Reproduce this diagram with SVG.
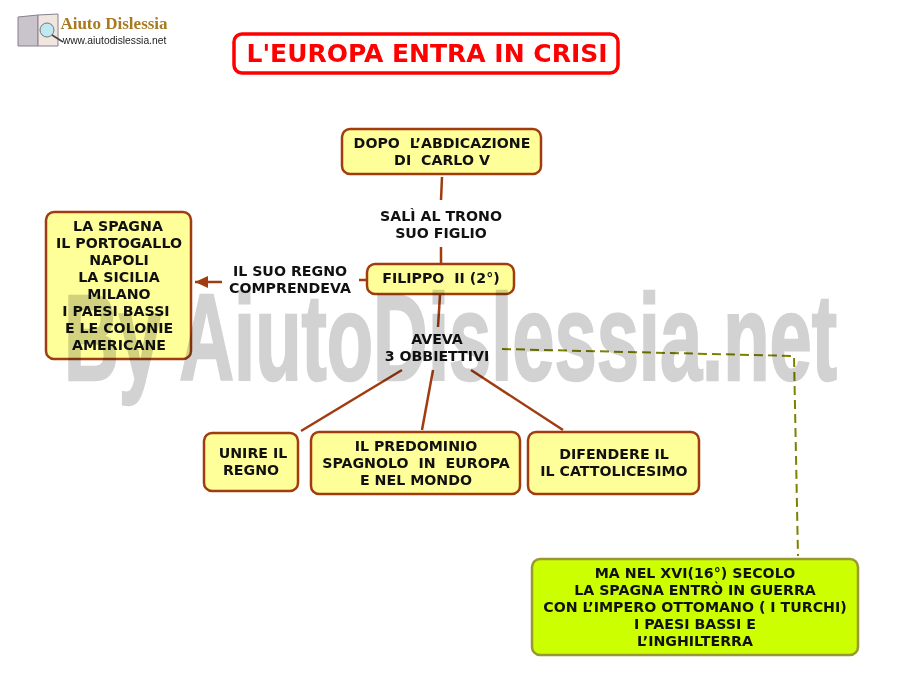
<svg xmlns="http://www.w3.org/2000/svg" width="900" height="700" viewBox="0 0 900 700">
<style>
text{font-family:"DejaVu Sans",Verdana,sans-serif;font-weight:bold;font-size:14.2px;fill:#111;text-anchor:middle;white-space:pre}
.box{fill:#ffff99;stroke:#a03c10;stroke-width:2.5}
.grn{fill:#ccff00;stroke:#999933;stroke-width:2.5}
.ln{fill:none;stroke:#a03c10;stroke-width:2.5}
.dash{fill:none;stroke:#808000;stroke-width:2;stroke-dasharray:9 5}
</style>
<defs><marker id="arr" markerWidth="14" markerHeight="12" refX="13" refY="6" orient="auto" markerUnits="userSpaceOnUse"><path d="M0 0L13 6L0 12Z" fill="#a03c10"/></marker></defs>
<rect width="900" height="700" fill="#fff"/>
<g id="logo">
<path d="M18 17L38 15L38 46L18 46Z" fill="#c9c3cc" stroke="#8a7f90"/>
<path d="M38 15L58 14L58 46L38 46Z" fill="#efe6e0" stroke="#8a7f90"/>
<circle cx="47" cy="30" r="7" fill="#bfe8f0" stroke="#777"/>
<path d="M52 35L63 42" stroke="#444" stroke-width="1.5"/>
<text x="114" y="29" style="font-family:'Liberation Serif',serif;font-size:17px;fill:#a87a20">Aiuto Dislessia</text>
<text x="114.500" y="44" style="font-family:'Liberation Sans',sans-serif;font-size:10.300px;font-weight:normal;fill:#222">www.aiutodislessia.net</text>
</g>
<g id="title">
<rect x="234" y="34" width="384" height="39" rx="8" fill="#fff" stroke="#ff0000" stroke-width="3.500"/>
<text x="427" y="62" style="font-size:25px;fill:#ff0000">L'EUROPA ENTRA IN CRISI</text>
</g>
<g id="connectors">
<path class="ln" d="M442 177L441 200"/>
<path class="ln" d="M441 247L441 263"/>
<path class="ln" d="M440 295L438 327"/>
<path class="ln" d="M367 280L359 280"/>
<path class="ln" d="M222 282L195 282" marker-end="url(#arr)"/>
<path class="ln" d="M402 370L301 431"/>
<path class="ln" d="M433 370L422 430"/>
<path class="ln" d="M471 370L563 430"/>
<path class="dash" d="M502 349L794 356L798 556"/>
</g>
<g id="n1"><rect class="box" x="342" y="129" width="199" height="45" rx="8"/><text x="442" y="148">DOPO  L’ABDICAZIONE</text><text x="442" y="165">DI  CARLO V</text></g>
<g id="l1"><text x="441" y="221">SALÌ AL TRONO</text><text x="441" y="238">SUO FIGLIO</text></g>
<g id="n2"><rect class="box" x="367" y="264" width="147" height="30" rx="8"/><text x="441" y="283">FILIPPO  II (2°)</text></g>
<g id="l2"><text x="290" y="276">IL SUO REGNO</text><text x="290" y="293">COMPRENDEVA</text></g>
<g id="n3"><rect class="box" x="46" y="212" width="145" height="147" rx="8"/>
<text x="118" y="231">LA SPAGNA</text><text x="119" y="248">IL PORTOGALLO</text><text x="119" y="265">NAPOLI</text><text x="119" y="282">LA SICILIA</text><text x="119" y="299">MILANO</text><text x="116" y="316">I PAESI BASSI</text><text x="119" y="333">E LE COLONIE</text><text x="119" y="350">AMERICANE</text></g>
<g id="l3"><text x="437" y="344">AVEVA</text><text x="437" y="361">3 OBBIETTIVI</text></g>
<g id="n4"><rect class="box" x="204" y="433" width="94" height="58" rx="8"/><text x="253" y="458">UNIRE IL</text><text x="251" y="475">REGNO</text></g>
<g id="n5"><rect class="box" x="311" y="432" width="209" height="62" rx="8"/><text x="416" y="451">IL PREDOMINIO</text><text x="416" y="468">SPAGNOLO  IN  EUROPA</text><text x="416" y="485">E NEL MONDO</text></g>
<g id="n6"><rect class="box" x="528" y="432" width="171" height="62" rx="8"/><text x="614" y="459">DIFENDERE IL</text><text x="614" y="476">IL CATTOLICESIMO</text></g>
<g id="n7"><rect class="grn" x="532" y="559" width="326" height="96" rx="8"/>
<text x="695" y="578">MA NEL XVI(16°) SECOLO</text><text x="695" y="595">LA SPAGNA ENTRÒ IN GUERRA</text><text x="695" y="612">CON L’IMPERO OTTOMANO ( I TURCHI)</text><text x="695" y="629">I PAESI BASSI E</text><text x="695" y="646">L’INGHILTERRA</text></g>
<text id="watermark" transform="translate(64 380) scale(.622 1)" style="font-family:'Liberation Sans',sans-serif;font-size:122px;fill:#d2d2d2;stroke:#d2d2d2;stroke-width:2;vector-effect:non-scaling-stroke;text-anchor:start;mix-blend-mode:multiply">By AiutoDislessia.net</text>
</svg>
